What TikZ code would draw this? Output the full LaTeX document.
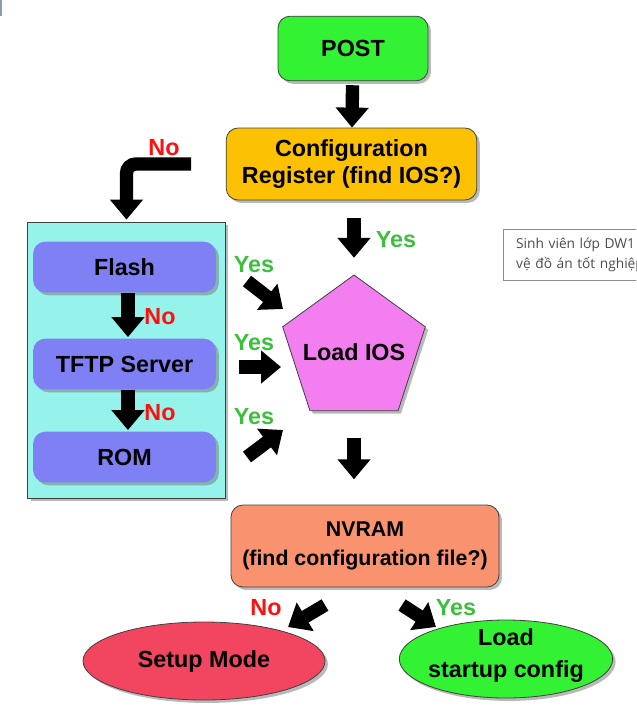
\documentclass[tikz,border=0pt]{standalone}
\usepackage{fontspec}
\setmainfont{Liberation Sans}
\newfontfamily\notefont{Open Sans}
\usetikzlibrary{arrows.meta,shapes.geometric,shadows}
\definecolor{postgreen}{HTML}{33F233}
\definecolor{cfgorange}{HTML}{FDC104}
\definecolor{storecyan}{HTML}{96F3EC}
\definecolor{srcpurple}{HTML}{8080F5}
\definecolor{iospink}{HTML}{F37EF0}
\definecolor{nvsalmon}{HTML}{F9936F}
\definecolor{setupred}{HTML}{F2455F}
\definecolor{yesgreen}{HTML}{3CBF3C}
\definecolor{nored}{HTML}{FF1010}
\tikzset{
    boxshadow/.style={drop shadow={shadow xshift=2.2pt,shadow yshift=-2.2pt,fill=black!55}},
    stepbox/.style={rectangle,rounded corners=9pt,draw=black!75,line width=0.6pt,boxshadow,
        font=\bfseries\fontsize{17.5}{20}\selectfont,align=center,inner sep=0pt},
    srcbox/.style={rectangle,rounded corners=9pt,fill=srcpurple,boxshadow,
        minimum width=137pt,minimum height=38pt,font=\bfseries\fontsize{17.5}{20}\selectfont},
    endcap/.style={ellipse,draw=black!75,line width=0.6pt,boxshadow,inner sep=0pt,
        minimum height=58.5pt},
    label text/.style={font=\bfseries\fontsize{17.5}{24}\selectfont,align=center,inner sep=0pt},
    bigarrow/.style={line width=10pt,-{Triangle[width=24pt,length=15pt]}},
    yes/.style={text=yesgreen,font=\bfseries\fontsize{17.5}{20}\selectfont,inner sep=0pt},
    no/.style={text=nored,font=\bfseries\fontsize{17.5}{20}\selectfont,inner sep=0pt},
}
\newcommand\BlockArrow[2]{%
    \draw[bigarrow] (#1) -- (#2);
}

\begin{document}
\begin{tikzpicture}[x=0.75pt,y=-0.75pt]
    \useasboundingbox (0,0) rectangle (636,718);
    \draw[color={rgb,255:red,140;green,154;blue,174},line width=1.6pt] (1,0) -- (1,16);
    % boot steps
    \node[stepbox,fill=postgreen,minimum width=112.5pt,minimum height=48.5pt] (post) at (353,48.5) {POST};
    \node[stepbox,fill=cfgorange,minimum width=188pt,minimum height=54pt,
        font=\bfseries\fontsize{17.5}{20.5}\selectfont] (cfgreg) at (351.5,164) {Configuration\\Register (find IOS?)};
    \draw[bigarrow,shorten <=3pt] (post) -- (cfgreg);
    % where to look for the IOS
    \node[rectangle,fill=storecyan,draw=black!75,line width=0.6pt,boxshadow,
        minimum width=148pt,minimum height=207pt] (store) at (126.5,360) {};
    \node[srcbox] (flash) at (124.5,267) {Flash};
    \node[srcbox] (tftp) at (124.5,364) {TFTP Server};
    \node[srcbox] (rom) at (124.5,457) {ROM};
    \draw[bigarrow,shorten >=1pt] ([xshift=2.6pt]flash.south) -- ([xshift=2.6pt]tftp.north);
    \draw[bigarrow,shorten >=1pt] ([xshift=2.6pt]tftp.south) -- ([xshift=2.6pt]rom.north);
    \node[no] (flashno) at (160,317) {No};
    \node[no] (tftpno) at (160,413) {No};
    \coordinate (cfgtail) at (191,164);
    \draw[bigarrow,rounded corners=7pt,shorten >=1.5pt] (cfgtail) -| (store.north);
    \node[no] (cfgno) at (164,148) {No};
    % load
    \node[regular polygon,regular polygon sides=5,fill=iospink,draw=black!75,line width=0.6pt,boxshadow,
        minimum size=112.5pt,inner sep=0pt] (ios) at (354,350) {};
    \node[label text] (iostext) at (354,352) {Load IOS};
    \draw[bigarrow,shorten <=13.5pt,shorten >=12.5pt] (ios.north |- cfgreg.south) -- (ios.north);
    \node[yes] (cfgyes) at (396,240) {Yes};
    \coordinate (flashtail) at (247,281);
    \coordinate (flashhead) at (283,309);
    \coordinate (tftptail) at (239,367);
    \coordinate (tftphead) at (281,367);
    \coordinate (romtail) at (247,457);
    \coordinate (romhead) at (283,430);
    \BlockArrow{flashtail}{flashhead}
    \BlockArrow{tftptail}{tftphead}
    \BlockArrow{romtail}{romhead}
    \node[yes] (flashyes) at (254,265) {Yes};
    \node[yes] (tftpyes) at (254,343) {Yes};
    \node[yes] (romyes) at (254,417) {Yes};
    % config file
    \node[stepbox,fill=nvsalmon,minimum width=201pt,minimum height=61.5pt,
        font=\bfseries\fontsize{16}{22}\selectfont] (nvram) at (365,546) {NVRAM\\(find configuration file?)};
    \draw[bigarrow,shorten <=20pt,shorten >=19pt] (ios.center |- ios.corner 3) -- (ios.center |- nvram.north);
    \node[endcap,fill=setupred,minimum width=181.5pt] (setup) at (204,661) {};
    \node[label text] (setuptext) at (setup) {Setup Mode};
    \node[endcap,fill=postgreen,minimum width=160pt] (startup) at (506,659) {};
    \node[label text] (startuptext) at (506,656) {Load\\startup config};
    \coordinate (notail) at (325,605);
    \coordinate (nohead) at (288,627);
    \coordinate (yestail) at (402,605);
    \coordinate (yeshead) at (436,627);
    \BlockArrow{notail}{nohead}
    \BlockArrow{yestail}{yeshead}
    \node[no] (nvno) at (266,608) {No};
    \node[yes] (nvyes) at (456,608) {Yes};
    % comment box on the right
    \begin{scope}
        \clip (0,0) rectangle (636,718);
        \node[rectangle,draw=black!45,line width=0.8pt,fill=white,anchor=north west,text width=180pt,align=left,
            inner xsep=9.5pt,inner ysep=6.5pt,text=black!70,font=\notefont\fontsize{10.3}{15}\selectfont]
            (note) at (503,229) {Sinh viên lớp DW1\\vệ đồ án tốt nghiệp};
    \end{scope}
\end{tikzpicture}
\end{document}
